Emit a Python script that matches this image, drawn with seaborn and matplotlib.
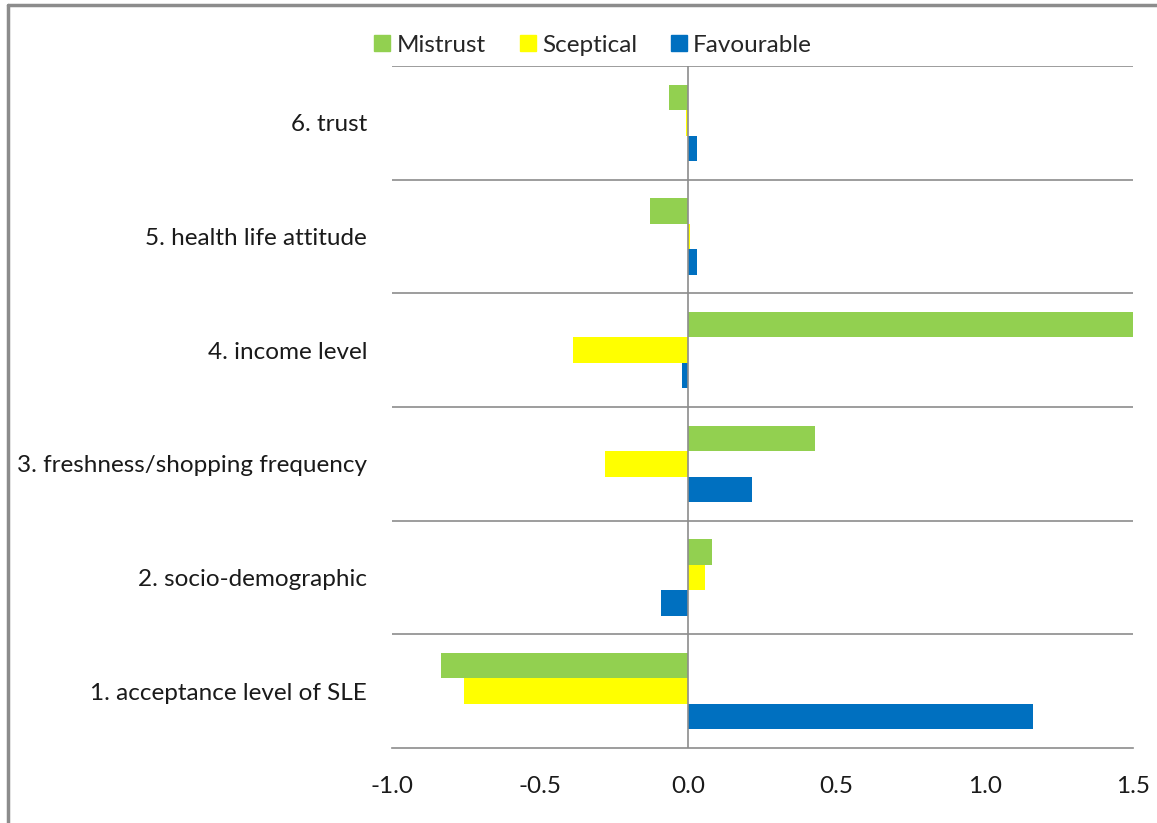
import matplotlib
matplotlib.use("Agg")
import matplotlib.pyplot as plt
import seaborn as sns
import pandas as pd
from matplotlib.lines import Line2D
from matplotlib.ticker import FormatStrFormatter

categories = ["6. trust", "5. health life attitude", "4. income level",
              "3. freshness/shopping frequency", "2. socio-demographic",
              "1. acceptance level of SLE"]
series = ["Mistrust", "Sceptical", "Favourable"]
mistrust = [-0.064, -0.128, 1.50, 0.428, 0.080, -0.833]
sceptical = [-0.008, 0.005, -0.388, -0.283, 0.057, -0.756]
favourable = [0.030, 0.030, -0.020, 0.216, -0.092, 1.161]
colors = ["#92D050", "#FFFF00", "#0070C0"]
xticks = [-1.0, -0.5, 0.0, 0.5, 1.0, 1.5]

rows = []
for s, vals in zip(series, [mistrust, sceptical, favourable]):
    for c, v in zip(categories, vals):
        rows.append({"category": c, "series": s, "value": v})
df = pd.DataFrame(rows)

sns.set_style("white")
plt.rcParams["font.family"] = ["Lato", "DejaVu Sans"]

fig = plt.figure(figsize=(11.57, 8.23), dpi=100)
ax = fig.add_axes([392/1157, 1-748/823, (1133-392)/1157, (748-66)/823])

sns.barplot(data=df, y="category", x="value", hue="series", order=categories,
            hue_order=series, palette=colors, orient="h", width=0.67,
            ax=ax, legend=False, saturation=1, edgecolor="none")

ax.set_xlim(-1.0, 1.5)
ax.set_ylim(len(categories) - 0.5, -0.5)
ax.set_xticks(xticks)
ax.xaxis.set_major_formatter(FormatStrFormatter("%.1f"))
ax.set_xlabel("")
ax.set_ylabel("")
for sp in ["top", "right", "left"]:
    ax.spines[sp].set_visible(False)
ax.spines["bottom"].set_color("#8c8c8c")
ax.spines["bottom"].set_linewidth(1.2)
for b in [i - 0.5 for i in range(len(categories))]:
    ax.axhline(b, color="#8c8c8c", lw=1.2, zorder=0)
ax.axvline(0, color="#8c8c8c", lw=1.2, zorder=3)
ax.tick_params(axis="both", length=0, labelsize=17.5, colors="#1a1a1a")
ax.tick_params(axis="x", pad=20)
ax.tick_params(axis="y", pad=18)

handles = [Line2D([], [], marker="s", linestyle="", markersize=11,
                  markerfacecolor=c, markeredgecolor=c) for c in colors]
fig.legend(handles, series, loc="center", bbox_to_anchor=(0.512, 1-45/823),
           ncol=3, frameon=False, fontsize=17.5, handletextpad=0.2,
           columnspacing=1.3, handlelength=0.8)

fig.add_artist(Line2D([8/1157, 8/1157], [0, 1-5/823], transform=fig.transFigure,
                      color="#8c8c8c", lw=2.5))
fig.add_artist(Line2D([8/1157, 1], [1-5/823, 1-5/823], transform=fig.transFigure,
                      color="#8c8c8c", lw=2.5))

fig.savefig("out.png", dpi=100)
